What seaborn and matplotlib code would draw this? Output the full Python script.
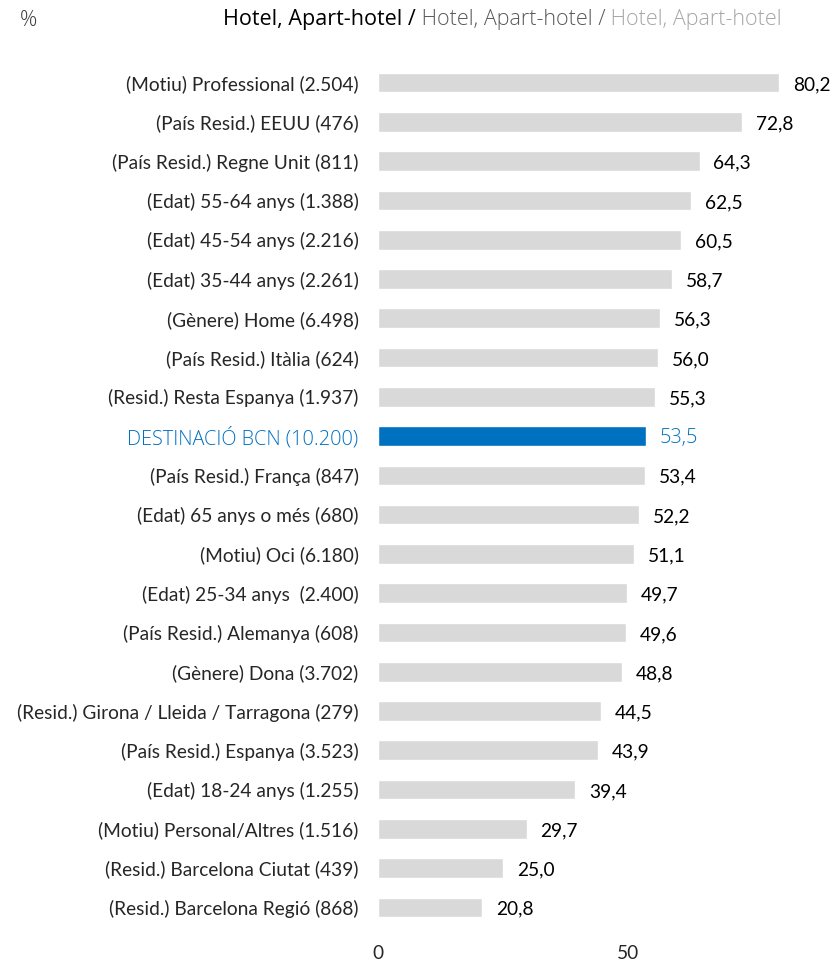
import pandas as pd
import seaborn as sns
import matplotlib.pyplot as plt

# dades
categories = [
    "(Motiu) Professional (2.504)",
    "(País Resid.) EEUU (476)",
    "(País Resid.) Regne Unit (811)",
    "(Edat) 55-64 anys (1.388)",
    "(Edat) 45-54 anys (2.216)",
    "(Edat) 35-44 anys (2.261)",
    "(Gènere) Home (6.498)",
    "(País Resid.) Itàlia (624)",
    "(Resid.) Resta Espanya (1.937)",
    "DESTINACIÓ BCN (10.200)",
    "(País Resid.) França (847)",
    "(Edat) 65 anys o més (680)",
    "(Motiu) Oci (6.180)",
    "(Edat) 25-34 anys  (2.400)",
    "(País Resid.) Alemanya (608)",
    "(Gènere) Dona (3.702)",
    "(Resid.) Girona / Lleida / Tarragona (279)",
    "(País Resid.) Espanya (3.523)",
    "(Edat) 18-24 anys (1.255)",
    "(Motiu) Personal/Altres (1.516)",
    "(Resid.) Barcelona Ciutat (439)",
    "(Resid.) Barcelona Regió (868)",
]
valors = [80.2, 72.8, 64.3, 62.5, 60.5, 58.7, 56.3, 56.0, 55.3, 53.5, 53.4,
          52.2, 51.1, 49.7, 49.6, 48.8, 44.5, 43.9, 39.4, 29.7, 25.0, 20.8]
destacat = "DESTINACIÓ BCN (10.200)"
xticks = [0, 50]
titol = ["Hotel, Apart-hotel /", " Hotel, Apart-hotel /", " Hotel, Apart-hotel"]

GRIS = "#D9D9D9"
BLAU = "#0070C0"
MIDA = 13.8
MIDA_DEST = 14.3
OPEN = ["Open Sans", "DejaVu Sans"]

sns.set_style("white")
plt.rcParams["font.family"] = ["Lato", "DejaVu Sans"]

df = pd.DataFrame({"cat": categories, "val": valors})
colors = [BLAU if c == destacat else GRIS for c in categories]

fig = plt.figure(figsize=(8.35, 9.63), dpi=100)
ax = fig.add_axes([378 / 835, 1 - 927 / 963, 457 / 835, (927 - 63) / 963])

sns.barplot(data=df, x="val", y="cat", hue="cat", palette=colors, legend=False,
            width=0.5, ax=ax, saturation=1)

ax.set_xlim(0, 91.4)
ax.set_ylim(len(categories) - 0.5, -0.5)
ax.set_xticks(xticks)
ax.set_xlabel("")
ax.set_ylabel("")
sns.despine(ax=ax, left=True, bottom=True)
ax.tick_params(axis="x", length=0, pad=13, labelsize=MIDA)
ax.tick_params(axis="y", length=0, pad=14, labelsize=MIDA)

for lab in ax.get_yticklabels():
    if lab.get_text() == destacat:
        lab.set_color(BLAU)
        lab.set_family(OPEN)
        lab.set_fontweight("light")
        lab.set_fontsize(MIDA_DEST)

# etiquetes de valor
for i, v in enumerate(valors):
    es = categories[i] == destacat
    ax.text(v + 2.8, i + 0.05, f"{v:.1f}".replace(".", ","), va="center", ha="left",
            fontsize=MIDA_DEST if es else MIDA, color=BLAU if es else "black",
            fontweight="light" if es else "normal",
            family=OPEN if es else ["Lato", "DejaVu Sans"])

# titol en tres trams
fig.text(20 / 835, 1 - 20 / 963, "%", fontsize=15.5, va="center", color="#404040",
         fontweight="light", family=OPEN)
t1 = fig.text(223 / 835, 1 - 20 / 963, titol[0], fontsize=15.5, va="center",
              color="black", family=OPEN)
t2 = ax.annotate(titol[1], xy=(1, 0), xycoords=t1, va="bottom", fontsize=15.5,
                 color="#595959", fontweight="light", annotation_clip=False,
                 family=OPEN)
t3 = ax.annotate(titol[2], xy=(1, 0), xycoords=t2, va="bottom", fontsize=15.5,
                 color="#A6A6A6", fontweight="light", annotation_clip=False,
                 family=OPEN)

fig.savefig("out.png", dpi=100)
